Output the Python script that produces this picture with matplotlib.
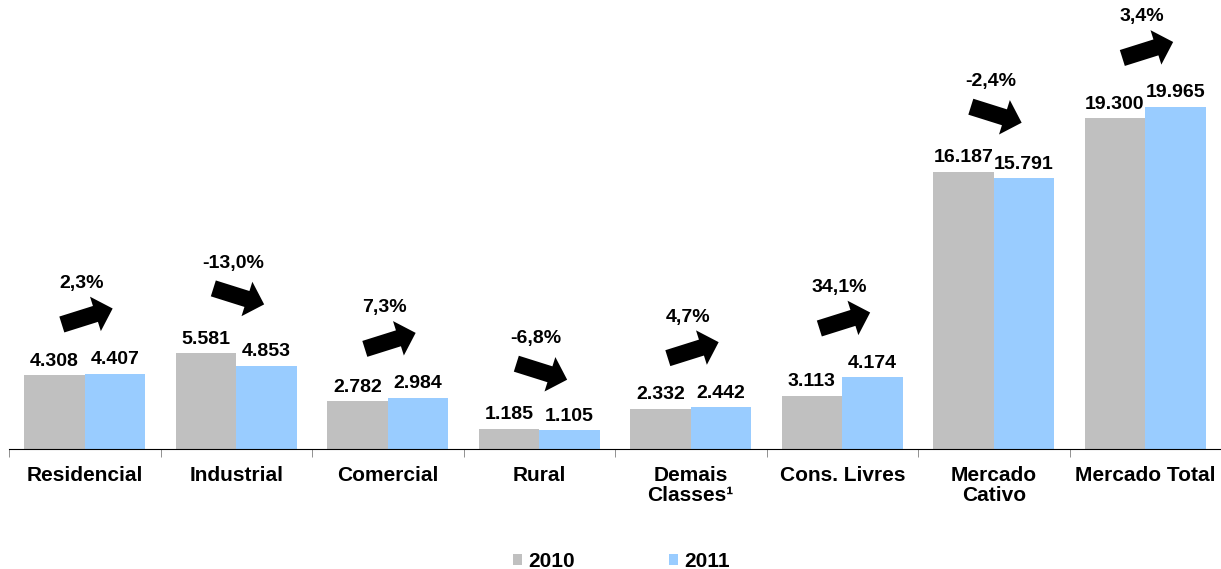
import numpy as np
import matplotlib.pyplot as plt

plt.rcParams['font.family'] = ['Liberation Sans', 'DejaVu Sans']
plt.rcParams['font.weight'] = 'bold'

categories = ['Residencial', 'Industrial', 'Comercial', 'Rural', 'Demais\nClasses¹',
              'Cons. Livres', 'Mercado\nCativo', 'Mercado Total']
v2010 = [4308, 5581, 2782, 1185, 2332, 3113, 16187, 19300]
v2011 = [4407, 4853, 2984, 1105, 2442, 4174, 15791, 19965]
growth = ['2,3%', '-13,0%', '7,3%', '-6,8%', '4,7%', '34,1%', '-2,4%', '3,4%']

c2010 = '#C0C0C0'
c2011 = '#99CCFF'

fig = plt.figure(figsize=(12.21, 5.69), dpi=100)
ax = fig.add_axes([9 / 1221, 120 / 569, 1 - 9 / 1221, 449 / 569])

x = np.arange(len(categories))
w = 0.4
b1 = ax.bar(x - w / 2, v2010, w, color=c2010, label='2010')
b2 = ax.bar(x + w / 2, v2011, w, color=c2011, label='2011')

def fmt(v):
    return f'{v:,}'.replace(',', '.')

for bars, vals in ((b1, v2010), (b2, v2011)):
    for r, v in zip(bars, vals):
        ax.annotate(fmt(v), (r.get_x() + r.get_width() / 2, v), xytext=(0, 4),
                    textcoords='offset points', ha='center', va='bottom',
                    fontsize=14, fontweight='bold')

# pixel -> data helpers
px_x = 1 / 152
px_y = 26210 / 449

for i, g in enumerate(growth):
    top = max(v2010[i], v2011[i])
    yc = top + 57 * px_y
    up = v2011[i] >= v2010[i]
    dy = 8 * px_y if up else -8 * px_y
    ax.annotate('', xy=(i + 28 * px_x, yc + dy), xytext=(i - 23 * px_x, yc - dy),
                arrowprops=dict(arrowstyle='simple,head_length=13,head_width=26,tail_width=12',
                                mutation_scale=1, color='black', shrinkA=0, shrinkB=0, lw=0))
    ax.text(i - 3 * px_x, yc + 33 * px_y, g, ha='center', va='center',
            fontsize=14, fontweight='bold')

ax.set_xlim(-0.5, 7.474)
ax.set_ylim(0, 26210)
ax.set_yticks([])
for s in ['top', 'right', 'left']:
    ax.spines[s].set_visible(False)
ax.spines['bottom'].set_color('black')
ax.set_xticks(x)
ax.set_xticklabels(categories, fontsize=15, fontweight='bold', linespacing=1.1)
ax.tick_params(axis='x', length=0, pad=12)
ax.set_xticks(np.arange(-0.5, 8, 1), minor=True)
ax.tick_params(axis='x', which='minor', length=6, color='#808080')

fig.legend(handles=[b1, b2], loc='center', bbox_to_anchor=(0.509, 0.013), ncol=2,
           frameon=False, handlelength=0.45, handleheight=0.45,
           handletextpad=0.3, columnspacing=4.5, prop={'weight': 'bold', 'size': 15})

fig.savefig('out.png', dpi=100)
